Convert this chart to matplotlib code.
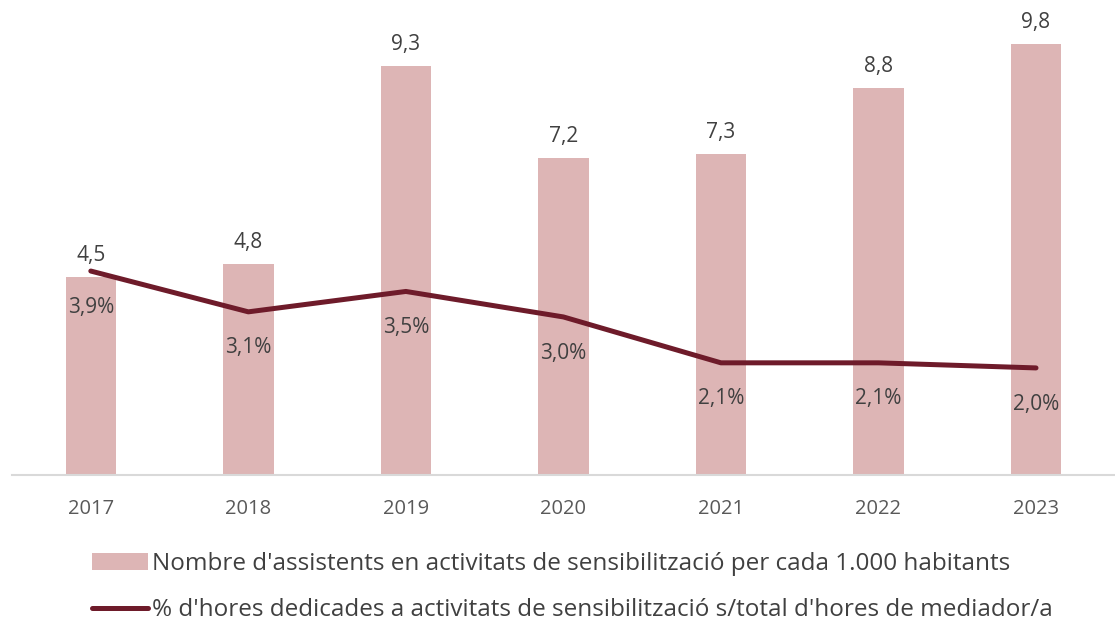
import matplotlib
matplotlib.use("Agg")
import matplotlib.pyplot as plt
from matplotlib.patches import Patch
from matplotlib.lines import Line2D

years = ["2017", "2018", "2019", "2020", "2021", "2022", "2023"]
assistents = [4.5, 4.8, 9.3, 7.2, 7.3, 8.8, 9.8]
pct_hores = [3.9, 3.1, 3.5, 3.0, 2.1, 2.1, 2.0]
bar_label = "Nombre d'assistents en activitats de sensibilització per cada 1.000 habitants"
line_label = "% d'hores dedicades a activitats de sensibilització s/total d'hores de mediador/a"

plt.rcParams['font.family'] = ['Open Sans', 'DejaVu Sans']

BAR_C = "#DDB5B5"
LINE_C = "#6E1B2A"
TXT = "#404040"

fig = plt.figure(figsize=(11.15, 6.25), dpi=100)
ax = fig.add_axes([0.0108, 0.24, 0.989, 0.744])
x = list(range(len(years)))
ax.bar(x, assistents, width=0.32, color=BAR_C, zorder=2)
ax.set_xlim(-0.5, len(years) - 0.5)
ax.set_ylim(0, 10.57)
ax.set_xticks(x)
ax.set_xticklabels(years, fontsize=14.5, color="#595959")
ax.tick_params(axis='x', length=0, pad=17)
ax.set_yticks([])
for s in ["top", "right", "left"]:
    ax.spines[s].set_visible(False)
ax.spines["bottom"].set_color("#D9D9D9")
ax.spines["bottom"].set_linewidth(1.5)
for xi, v in zip(x, assistents):
    ax.annotate(f"{v:.1f}".replace(".", ","), (xi, v), xytext=(0, 8),
                textcoords="offset points", ha="center", va="bottom",
                fontsize=15, color=TXT)

ax2 = ax.twinx()
ax2.set_ylim(-0.1, 9.02)
ax2.plot(x, pct_hores, color=LINE_C, linewidth=3.6, solid_capstyle="round", zorder=3)
ax2.set_yticks([])
for s in ["top", "right", "left", "bottom"]:
    ax2.spines[s].set_visible(False)
for xi, v in zip(x, pct_hores):
    ax2.annotate(f"{v:.1f}%".replace(".", ","), (xi, v), xytext=(0, -26),
                 textcoords="offset points", ha="center", va="center",
                 fontsize=15, color=TXT)

handles = [Patch(facecolor=BAR_C, edgecolor="none"),
           Line2D([0], [0], color=LINE_C, linewidth=3.6, solid_capstyle="round")]
fig.legend(handles, [bar_label, line_label], loc="upper left",
           bbox_to_anchor=(0.0735, 0.132), frameon=False, fontsize=17.5,
           labelcolor="#404040", handlelength=2.3, handletextpad=0.2,
           labelspacing=0.9, borderaxespad=0)

fig.savefig("out.png", dpi=100)
